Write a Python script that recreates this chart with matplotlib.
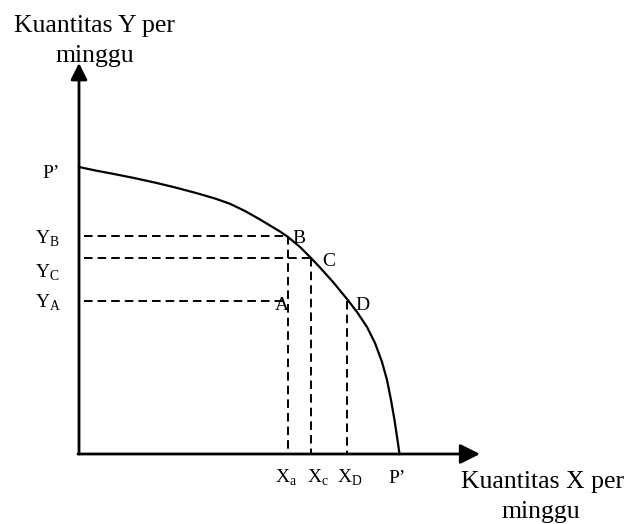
import matplotlib.pyplot as plt

plt.rcParams['font.family'] = ['Liberation Serif', 'DejaVu Serif']
plt.rcParams['mathtext.fontset'] = 'custom'
plt.rcParams['mathtext.rm'] = 'Liberation Serif'

# production possibility frontier
frontier_x = [0, 1.6, 3.6, 5.6, 7.6, 9.6, 11.6, 13.6, 15.1, 16.6, 18.1, 20.1, 20.9, 22.1, 23.2,
              24.1, 25.4, 26.8, 27.8, 28.8, 29.6, 30.3, 30.8, 31.2, 31.55, 31.85, 32.05]
frontier_y = [28.7, 28.36, 27.98, 27.58, 27.14, 26.66, 26.13, 25.55, 25.02, 24.3, 23.45, 22.25,
              21.7, 20.7, 19.6, 18.65, 17.2, 15.5, 14.2, 12.7, 11.1, 9.2, 7.4, 5.4, 3.4, 1.4, 0]

# points on / under the curve
pt_names = ['A', 'B', 'C', 'D']
pt_x = [20.9, 20.9, 23.2, 26.8]
pt_y = [15.3, 21.8, 19.6, 15.3]

x_ticklabels = [r'X$_\mathregular{a}$', r'X$_\mathregular{c}$', r'X$_\mathregular{D}$', "P’"]
y_ticklabels = ["P’", r'Y$_\mathregular{B}$', r'Y$_\mathregular{C}$', r'Y$_\mathregular{A}$']

x_end = 40.1
y_end = 39.1

fig = plt.figure(figsize=(6.3, 5.24), dpi=100)
ax = fig.add_axes([0, 0, 1, 1])
ax.set_xlim(-7.9, 55.1)
ax.set_ylim(-7.0, 45.4)
ax.axis('off')

# axes with arrow heads
ax.annotate('', xy=(0, y_end), xytext=(0, 0),
            arrowprops=dict(arrowstyle='-|>,head_length=0.5,head_width=0.25', lw=2,
                            color='black', mutation_scale=20, shrinkA=0, shrinkB=0))
ax.annotate('', xy=(x_end, 0), xytext=(-0.1, 0),
            arrowprops=dict(arrowstyle='-|>,head_length=0.5,head_width=0.25', lw=2,
                            color='black', mutation_scale=24, shrinkA=0, shrinkB=0))

ax.plot(frontier_x, frontier_y, color='black', lw=1.6, solid_joinstyle='round')

# dashed guides
dash = (0, (4.4, 2.6))
for i in range(len(pt_names)):
    px, py = pt_x[i], pt_y[i]
    if pt_names[i] == 'A':
        ax.plot([0.5, px], [py, py], color='black', lw=1.4, linestyle=dash)
        continue
    ax.plot([px, px], [py, 0], color='black', lw=1.4, linestyle=dash)
    if pt_names[i] == 'B' or pt_names[i] == 'C':
        ax.plot([0.5, px], [py, py], color='black', lw=1.4, linestyle=dash)

# point labels
lab_off = {'A': (-1.3, -0.9), 'B': (0.4, -0.7), 'C': (1.1, -0.8), 'D': (0.8, -0.9)}
for i in range(len(pt_names)):
    dx, dy = lab_off[pt_names[i]]
    ax.text(pt_x[i] + dx, pt_y[i] + dy, pt_names[i], fontsize=14, va='baseline', ha='left')

# x-axis labels
x_lab_pos = [20.7, 23.9, 27.1, 31.8]
for lab, xp in zip(x_ticklabels, x_lab_pos):
    ax.text(xp, -2.9, lab, fontsize=14, ha='center', va='baseline')

# y-axis labels
y_lab_pos = [27.6, 21.0, 17.6, 14.6]
for lab, yp in zip(y_ticklabels, y_lab_pos):
    xl = -3.7 if lab == "P’" else -4.4
    ax.text(xl, yp, lab, fontsize=14, ha='left', va='baseline')

# axis titles
ax.text(1.6, 42.2, 'Kuantitas Y per', fontsize=18.5, ha='center', va='baseline')
ax.text(1.6, 39.2, 'minggu', fontsize=18.5, ha='center', va='baseline')
ax.text(46.4, -3.4, 'Kuantitas X per', fontsize=18.5, ha='center', va='baseline')
ax.text(46.2, -6.4, 'minggu', fontsize=18.5, ha='center', va='baseline')

fig.savefig('out.png', dpi=100)
